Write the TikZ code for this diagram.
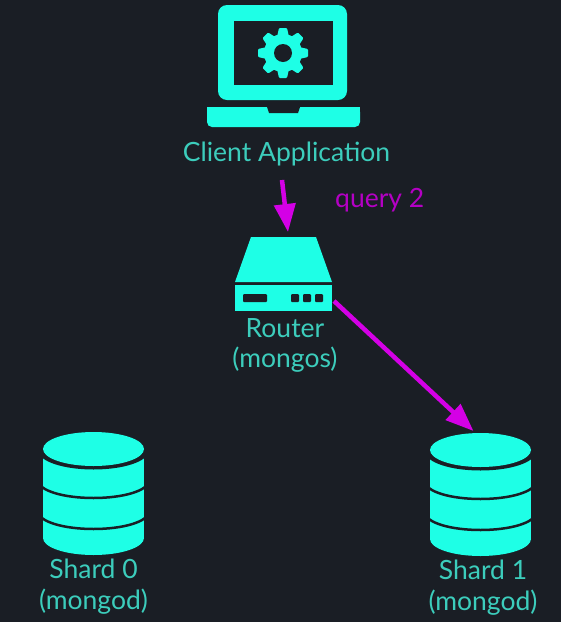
\documentclass[tikz,border=0pt]{standalone}
\usepackage{fontspec}
\setmainfont{Lato}
\usetikzlibrary{positioning,calc,arrows.meta}
\definecolor{bgdark}{HTML}{1A1E25}
\definecolor{iconcyan}{HTML}{1EFFE6}
\definecolor{labelteal}{HTML}{3CCDBC}
\definecolor{querypink}{HTML}{D400E6}
\tikzset{
    iconbox/.style={inner sep=0pt,outer sep=0pt},
    iconlabel/.style={text=labelteal,align=center,inner sep=0pt,font=\fontsize{26.5}{30.5}\selectfont},
    queryarrow/.style={draw=querypink,line width=4.5pt,-{Triangle[length=28pt,width=21pt]}},
    shardicon/.pic={
        \begin{scope}
            \clip (-50.5,-20) rectangle (50.5,110);
            \fill[iconcyan] (-50.5,0) rectangle (50.5,89);
            \fill[iconcyan] (0,89) ellipse [x radius=50.5,y radius=17];
            \draw[bgdark,line width=2.5pt] (-55,32) arc [start angle=180,end angle=0,x radius=55,y radius=17];
            \draw[bgdark,line width=2.5pt] (-55,63) arc [start angle=180,end angle=0,x radius=55,y radius=17];
            \fill[bgdark] (-55,-20) -- (-55,2) arc [start angle=180,end angle=0,x radius=55,y radius=18.5] -- (55,-20) -- cycle;
        \end{scope}
        \fill[iconcyan] (0,0) ellipse [x radius=50.5,y radius=17];
    }
}
\begin{document}
\begin{tikzpicture}[x=1pt,y=-1pt]
    \fill[bgdark] (0,0) rectangle (561,622);
    \useasboundingbox (0,0) rectangle (561,622);
    % Client
    \node [iconbox,minimum width=153pt,minimum height=122pt] (client) at (283.5,66) {};
    \fill[iconcyan,rounded corners=9pt] (218,5) rectangle (347,100);
    \fill[bgdark] (234,21) rectangle (333,85);
    \fill[iconcyan] (283,53) circle (19);
    \foreach \a in {0,45,...,315}
        \fill[iconcyan,rotate around={\a:(283,53)},rounded corners=1pt] (277,37) -- (279,28) -- (287,28) -- (289,37) -- cycle;
    \fill[bgdark] (283,53) circle (9);
    \fill[iconcyan,rounded corners=5pt] (207,107) -- (207,127) -- (360,127) -- (360,107) -- cycle;
    \fill[iconcyan] (207,107) rectangle (360,115);
    \fill[bgdark] (267,107) -- (269,113) -- (298,113) -- (300,107) -- cycle;
    \node [iconlabel,below=15pt of client,xshift=3pt] (clientlabel) {Client Application};
    % Router
    \node [iconbox,minimum width=97pt,minimum height=74pt] (router) at (283.5,274) {};
    \fill[iconcyan] (251,237) -- (316,237) -- (332,282) -- (235,282) -- cycle;
    \fill[iconcyan] (235,285) rectangle (332,311);
    \fill[bgdark,rounded corners=1pt] (243,294) rectangle (267,302);
    \foreach \px in {295,307,319}
        \fill[bgdark,rounded corners=1pt] (\px-4,294) rectangle (\px+4,302);
    \node [iconlabel,below=7pt of router,xshift=1.5pt] (routerlabel) {Router\\(mongos)};
    % Shards
    \node [iconbox,minimum width=101pt,minimum height=123pt] (shardzero) at (93.5,493.5) {};
    \pic at ($(shardzero.north)+(0,17)$) {shardicon};
    \node [iconlabel,below=4pt of shardzero] (shardzerolabel) {Shard 0\\(mongod)};
    \node [iconbox,minimum width=101pt,minimum height=123pt] (shardone) at (480.5,494.5) {};
    \pic at ($(shardone.north)+(0,17)$) {shardicon};
    \node [iconlabel,below=4pt of shardone,xshift=2.5pt] (shardonelabel) {Shard 1\\(mongod)};
    % Query
    \node [iconlabel,text=querypink!85!black,anchor=base west] (querylabel) at (335,207) {query 2};
    \coordinate (queryin) at ($(router.north)+(-1.5,-57)$);
    \coordinate (routerout) at ($(router.east)+(2,27)$);
    \draw[queryarrow] (queryin) -- ($(router.north)+(4.5,-5)$);
    \draw[queryarrow] (routerout) -- ($(shardone.north)+(-7,-2)$);
\end{tikzpicture}
\end{document}
